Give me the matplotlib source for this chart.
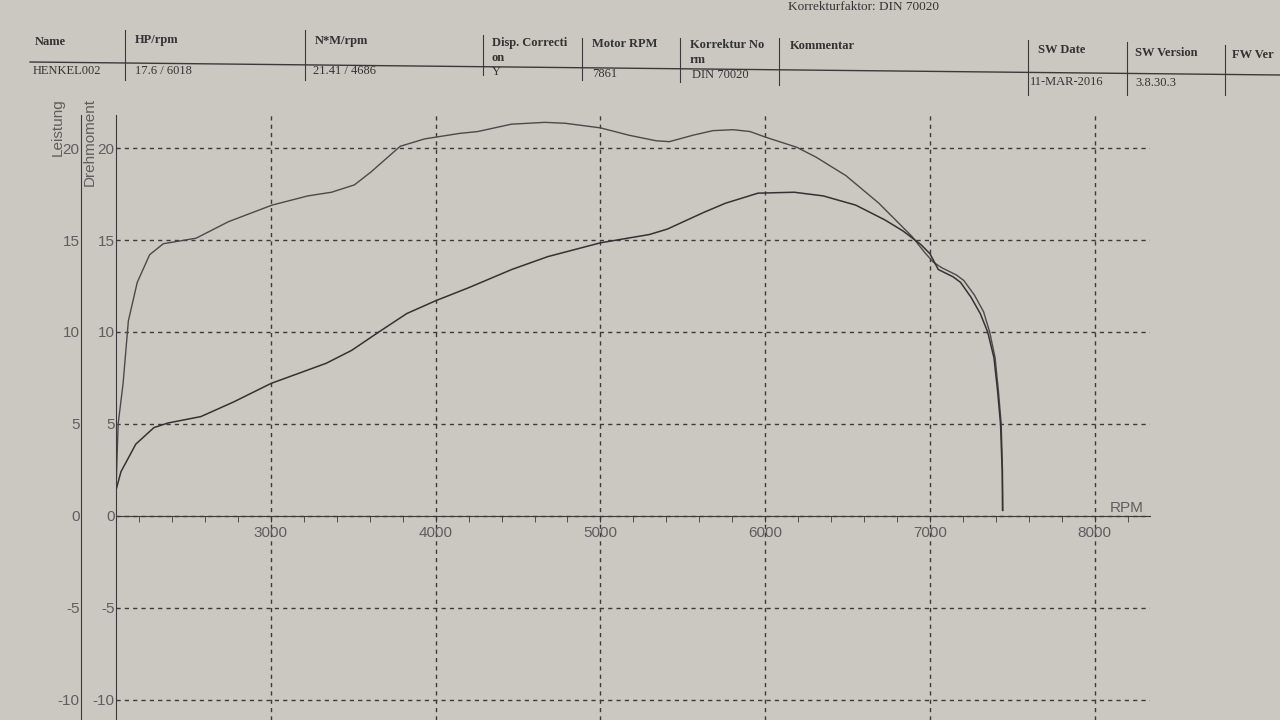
import matplotlib
matplotlib.use("Agg")
import matplotlib.pyplot as plt
from matplotlib.lines import Line2D
from matplotlib.ticker import MultipleLocator

plt.rcParams["axes.unicode_minus"] = False

# --- dyno run data ---
rpm_torque = [2060, 2073, 2103, 2135, 2189, 2264, 2347, 2546, 2743, 3007,
              3224, 3368, 3507, 3607, 3785, 3933, 4146, 4255, 4459, 4663,
              4786, 5000, 5173, 5337, 5418, 5561, 5683, 5806, 5908, 6000,
              6190, 6310, 6490, 6690, 6890, 6970, 7020, 7070, 7160, 7205,
              7270, 7325, 7362, 7395, 7415, 7432, 7440, 7442]
torque = [1.4, 5.0, 7.2, 10.6, 12.7, 14.2, 14.8, 15.1, 16.0, 16.9,
          17.4, 17.6, 18.0, 18.7, 20.1, 20.5, 20.8, 20.9, 21.3, 21.4,
          21.35, 21.1, 20.7, 20.4, 20.35, 20.7, 20.95, 21.0, 20.9, 20.6,
          20.05, 19.5, 18.5, 17.0, 15.2, 14.3, 13.8, 13.5, 13.1, 12.8,
          12.0, 11.1, 10.0, 8.6, 6.8, 5.0, 2.4, 0.3]

rpm_power = [2060, 2090, 2180, 2290, 2375, 2575, 2775, 3000, 3336, 3490,
             3655, 3824, 4000, 4198, 4462, 4681, 5000, 5297, 5407, 5626,
             5758, 5956, 6176, 6352, 6549, 6725, 6835, 6909, 6945, 7000,
             7050, 7140, 7185, 7248, 7305, 7350, 7388, 7410, 7428, 7438, 7440]
power = [1.4, 2.4, 3.9, 4.8, 5.05, 5.4, 6.2, 7.2, 8.3, 9.0,
         10.0, 11.0, 11.7, 12.4, 13.4, 14.1, 14.85, 15.3, 15.6, 16.5,
         17.0, 17.55, 17.6, 17.4, 16.9, 16.1, 15.5, 15.0, 14.75, 14.25,
         13.4, 13.0, 12.7, 11.9, 11.0, 10.0, 8.6, 6.8, 5.0, 2.4, 0.3]

x_ticks = [3000, 4000, 5000, 6000, 7000, 8000]
y_ticks = [-10, -5, 0, 5, 10, 15, 20]

# --- header table ---
header_cols = ["Name", "HP/rpm", "N*M/rpm", "Disp. Correcti\non", "Motor RPM",
               "Korrektur No\nrm", "Kommentar", "SW Date", "SW Version", "FW Ver"]
header_vals = ["HENKEL002", "17.6 / 6018", "21.41 / 4686", "Y", "7861",
               "DIN 70020", "", "11-MAR-2016", "3.8.30.3", ""]
col_x = [35, 135, 315, 492, 592, 690, 790, 1038, 1135, 1232]
col_y = [42, 40, 41, 43, 44, 45, 46, 50, 53, 55]
val_x = [33, 135, 313, 492, 592, 692, 790, 1030, 1135, 1240]
val_y = [71, 71, 71, 72, 74, 75, 75, 82, 83, 84]
sep_x = [125, 305, 483, 582, 680, 779, 1028, 1127, 1225]
sep_top = [30, 30, 35, 38, 38, 38, 40, 42, 45]
sep_bot = [80, 80, 75, 80, 82, 85, 95, 95, 95]

PAPER = "#cbc8c1"
INK = "#3a3a3a"
GRAY = "#5e5e5e"
SANS = ["Liberation Sans", "DejaVu Sans"]
SERIF = ["Liberation Serif", "DejaVu Serif"]


def px(x, y):
    """pixel position (top-left origin) -> figure fraction"""
    return x / 1280, 1 - y / 720


fig = plt.figure(figsize=(12.8, 7.2), dpi=100, facecolor=PAPER)

# header
fig.text(*px(863, 7), "Korrekturfaktor: DIN 70020", ha="center", va="center",
         fontsize=9.5, family=SERIF, color="#333333")
for name, x, y in zip(header_cols, col_x, col_y):
    for i, part in enumerate(name.split("\n")):
        fig.text(*px(x, y + 15 * i), part, ha="left", va="center", fontsize=9,
                 family=SERIF, weight="bold", color="#333333")
for val, x, y in zip(header_vals, val_x, val_y):
    fig.text(*px(x, y), val, ha="left", va="center", fontsize=9, family=SERIF,
             color="#333333")
x0, y0 = px(30, 62)
x1, y1 = px(1280, 75)
fig.add_artist(Line2D([x0, x1], [y0, y1], transform=fig.transFigure,
                      color=INK, lw=1))
for sx, st, sb in zip(sep_x, sep_top, sep_bot):
    bx, by = px(sx, st)
    ex, ey = px(sx, sb)
    fig.add_artist(Line2D([bx, ex], [by, ey], transform=fig.transFigure,
                          color=INK, lw=0.8))

# --- chart ---
ax = fig.add_axes([116 / 1280, 0, 1034 / 1280, 605 / 720])
ax.set_facecolor("none")
ax.set_xlim(2060, 8335)
ax.set_ylim(-11.1, 21.8)

for side in ("top", "right"):
    ax.spines[side].set_visible(False)
ax.spines["left"].set_color(INK)
ax.spines["bottom"].set_color(INK)
ax.spines["bottom"].set_position(("data", 0))

ax.set_xticks(x_ticks)
ax.xaxis.set_minor_locator(MultipleLocator(200))
ax.tick_params(axis="x", which="both", direction="out", length=4, color=INK,
               labelsize=11, labelcolor=GRAY, pad=3)
ax.set_yticks(y_ticks)
ax.tick_params(axis="y", length=0, pad=1, labelsize=11, labelcolor=GRAY)
for lab in ax.get_xticklabels() + ax.get_yticklabels():
    lab.set_family(SANS)

ax.grid(True, which="major", linestyle=(0, (3, 3)), color=INK, lw=1)

# second (Leistung) scale to the left
sec = ax.secondary_yaxis(-35 / 1034)
sec.set_yticks(y_ticks)
sec.spines["left"].set_color(INK)
sec.tick_params(length=0, pad=1, labelsize=11, labelcolor=GRAY)
for lab in sec.get_yticklabels():
    lab.set_family(SANS)

ax.plot(rpm_torque, torque, color="#4a4a4a", lw=1.0)
ax.plot(rpm_power, power, color="#333333", lw=1.1)

ax.text(8090, 0.05, "RPM", ha="left", va="bottom", fontsize=11,
        color=GRAY, family=SANS)
fig.text(*px(58, 98), "Leistung", rotation=90, ha="center", va="top",
         fontsize=11, color=GRAY, family=SANS)
fig.text(*px(90, 98), "Drehmoment", rotation=90, ha="center", va="top",
         fontsize=11, color=GRAY, family=SANS)

fig.savefig("out.png", dpi=100, facecolor=PAPER)
